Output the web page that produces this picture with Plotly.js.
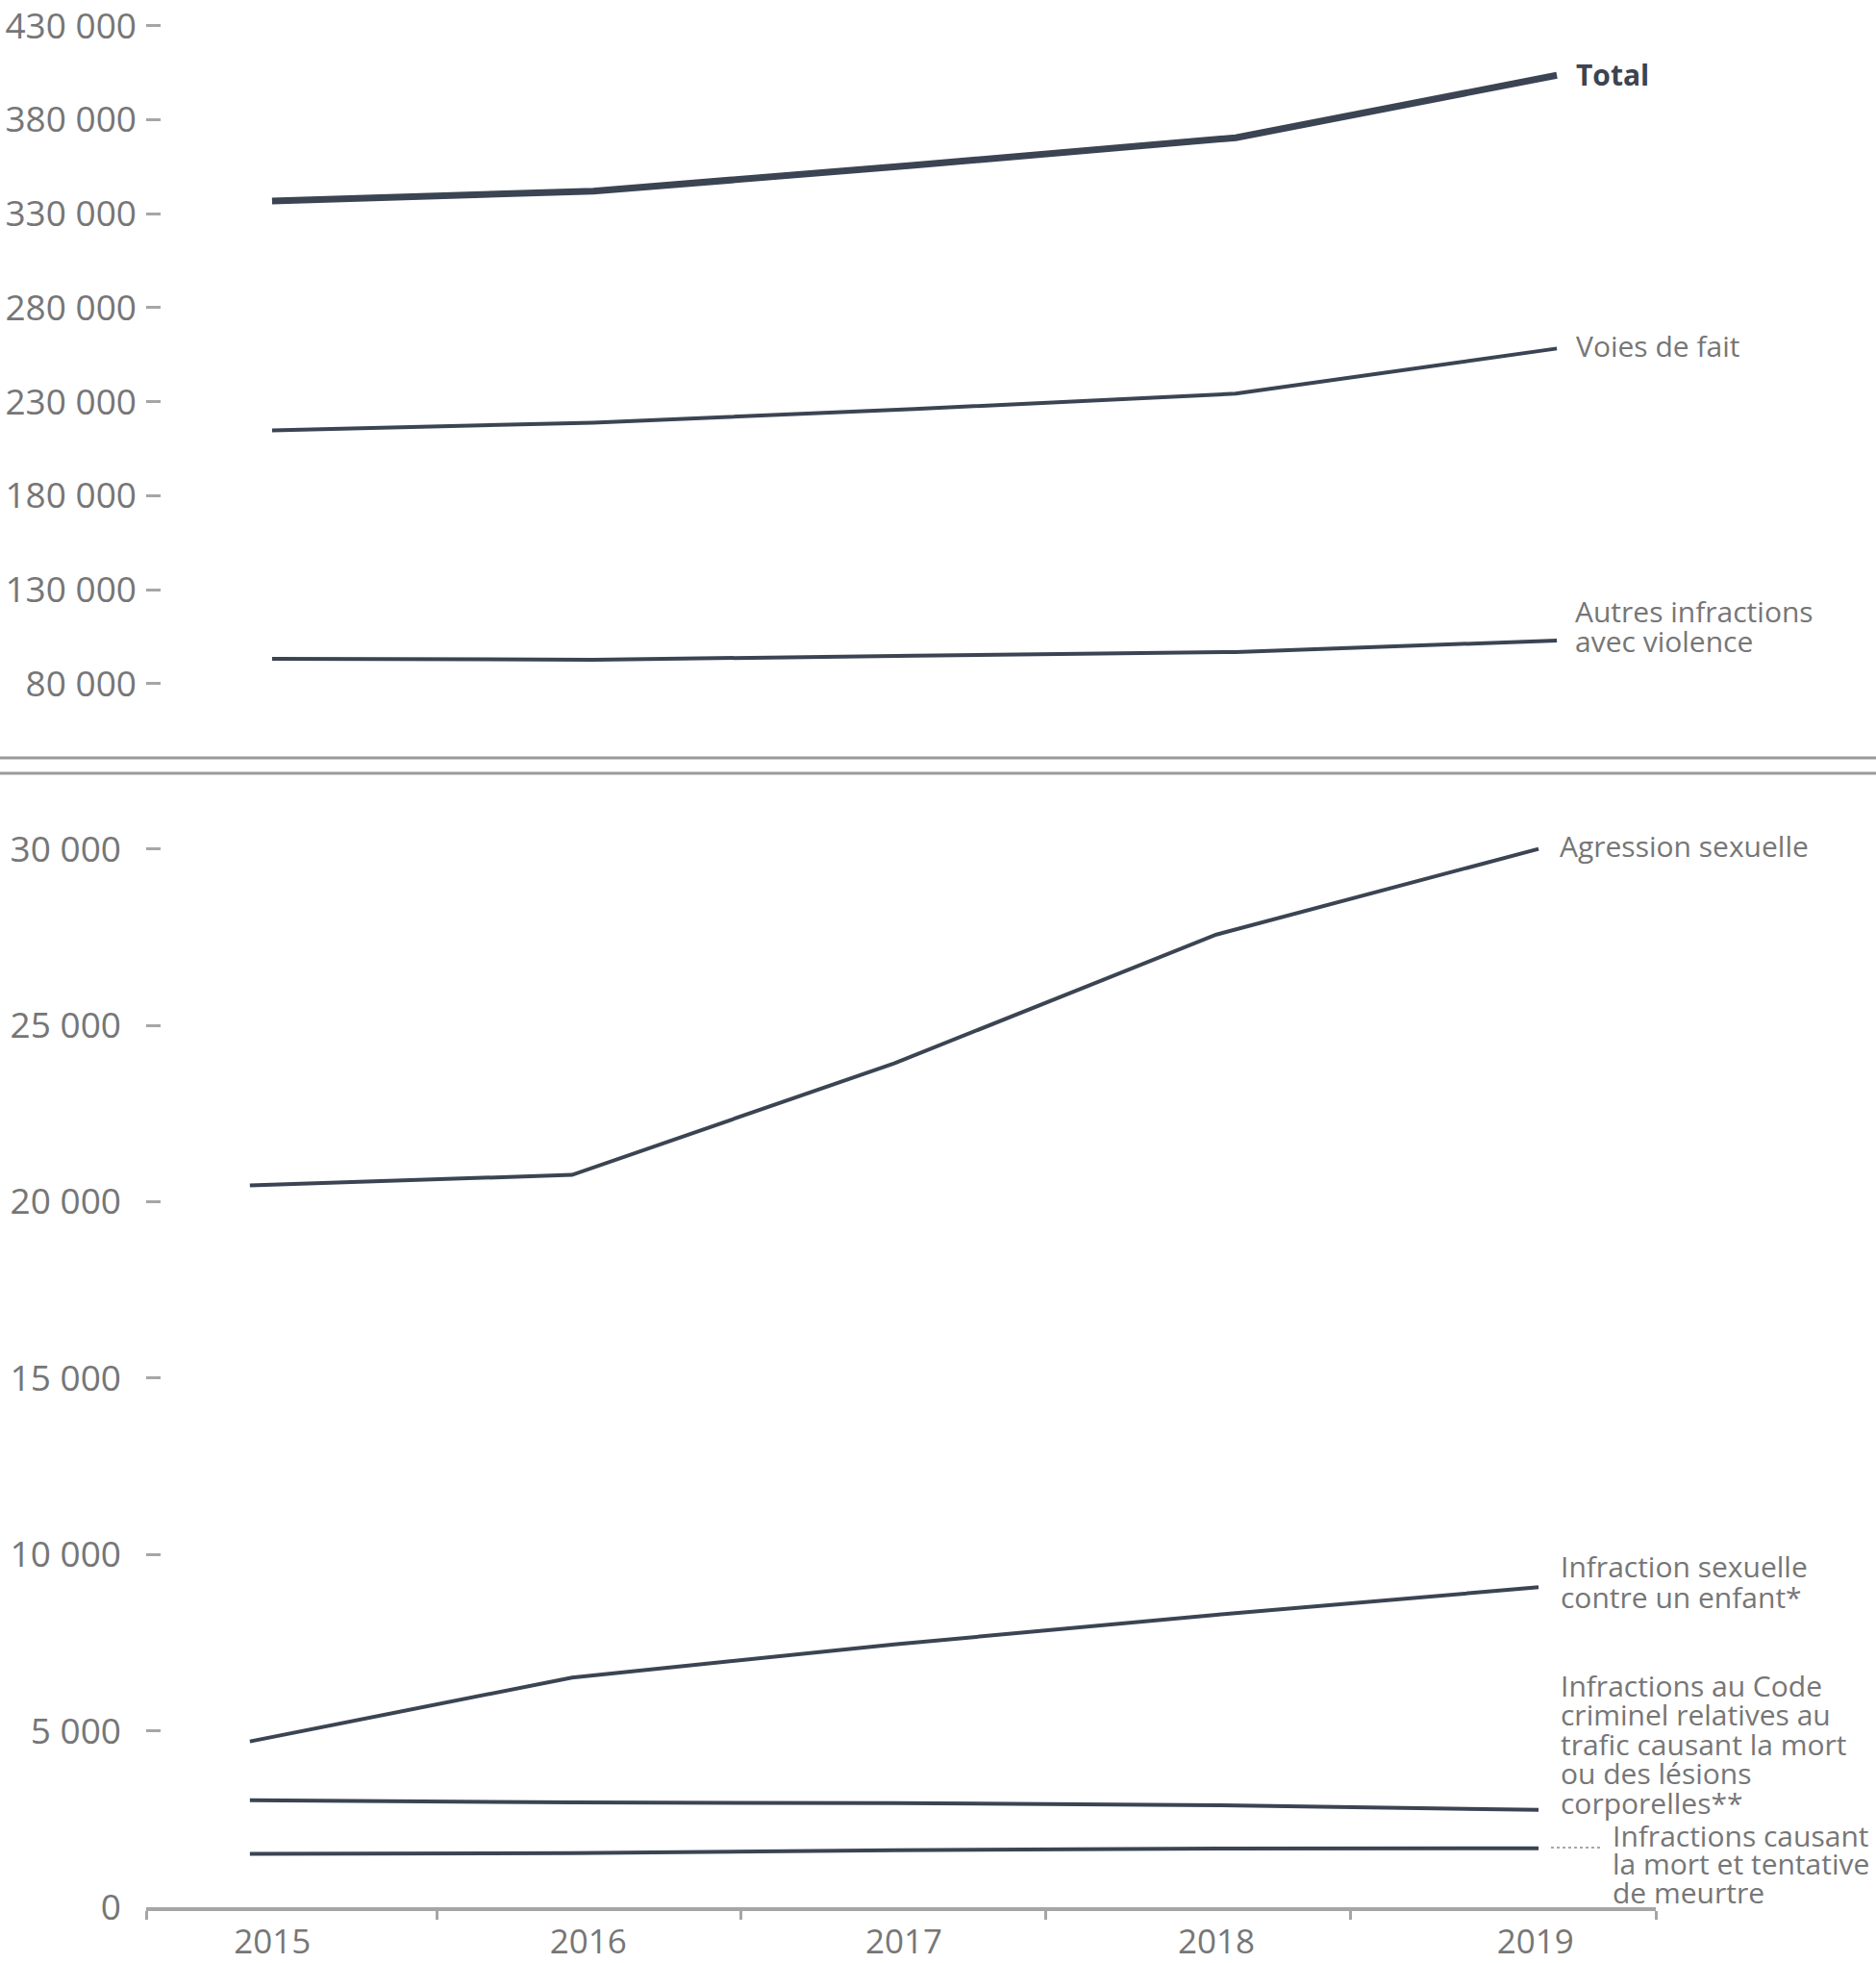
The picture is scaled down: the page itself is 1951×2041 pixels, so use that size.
<!DOCTYPE html>
<html>
<head>
<meta charset="utf-8">
<script src="https://cdn.plot.ly/plotly-3.0.1.min.js"></script>
<style>html,body{margin:0;padding:0;background:#fff;}</style>
</head>
<body>
<div id="chart" style="width:1951px;height:2041px;"></div>
<script>
// ---- data ----
const years = [2015, 2016, 2017, 2018, 2019];
const yearLabels = ['2015', '2016', '2017', '2018', '2019'];

// top panel
const total = [336800, 342000, 355800, 370400, 403600];
const voiesDeFait = [214800, 218900, 226100, 234300, 258300];
const autresInfractions = [93300, 92800, 94900, 96900, 103000];

// bottom panel
const agressionSexuelle = [20460, 20760, 23920, 27570, 30000];
const infractionEnfant = [4700, 6510, 7450, 8290, 9070];
const infractionsTrafic = [3030, 2970, 2950, 2890, 2760];
const infractionsMort = [1510, 1535, 1615, 1660, 1670];

const topTicks = [80000, 130000, 180000, 230000, 280000, 330000, 380000, 430000];
const topTickText = ['80 000', '130 000', '180 000', '230 000', '280 000', '330 000', '380 000', '430 000'];
const botTicks = [0, 5000, 10000, 15000, 20000, 25000, 30000];
const botTickText = ['0', '5 000', '10 000', '15 000', '20 000', '25 000', '30 000'];

// ---- layout geometry (pixels) ----
const W = 1951, H = 2041;
const L = 152, R = 229, T = 10, B = 58;
const PW = W - L - R, PH = H - T - B;
const px = x => (x - L) / PW;
const py = y => (H - B - y) / PH;

const lineColor = '#3b4452';
const textColor = '#767676';
const tickColor = '#a6a6a6';
const FONT = '"Open Sans", "Noto Sans", sans-serif';

const bottomXRange = [2014.678, 2019.364];
const topXRange = [2014.608, 2019.308];
const bottomXTickMarks = [2014.678, 2015.582, 2016.525, 2017.469, 2018.415, 2019.364];
const yearLabelPos = [2015.07, 2016.05, 2017.03, 2018.0, 2018.99];

function tr(y, w, xa, ya) {
  return {x: years, y: y, type: 'scatter', mode: 'lines', xaxis: xa, yaxis: ya,
          line: {color: lineColor, width: w}, hoverinfo: 'skip', showlegend: false};
}

const data = [
  tr(total, 7, 'x2', 'y2'),
  tr(voiesDeFait, 4, 'x2', 'y2'),
  tr(autresInfractions, 4, 'x2', 'y2'),
  tr(agressionSexuelle, 4, 'x', 'y'),
  tr(infractionEnfant, 4, 'x', 'y'),
  tr(infractionsTrafic, 4, 'x', 'y'),
  tr(infractionsMort, 4, 'x', 'y')
];

function lab(text, x, y, opts) {
  opts = opts || {};
  return {text: text, xref: 'paper', yref: 'paper', x: px(x), y: py(y),
          xanchor: 'left', yanchor: 'middle', showarrow: false,
          font: {family: FONT, size: 30, color: opts.color || textColor}};
}

const annotations = [
  lab('<b>Total</b>', 1637, 77, {color: lineColor}),
  lab('Voies de fait', 1637, 360),
  lab('Autres infractions', 1636, 635),
  lab('avec violence', 1636, 666),
  lab('Agression sexuelle', 1620, 879),
  lab('Infraction sexuelle', 1621, 1628),
  lab('contre un enfant*', 1621, 1660),
  lab('Infractions au Code', 1621, 1752),
  lab('criminel relatives au', 1621, 1782),
  lab('trafic causant la mort', 1621, 1813),
  lab('ou des lésions', 1621, 1843),
  lab('corporelles**', 1621, 1874),
  lab('Infractions causant', 1675, 1908),
  lab('la mort et tentative', 1675, 1937),
  lab('de meurtre', 1675, 1967)
];

const shapes = [
  {type: 'line', xref: 'paper', yref: 'paper', x0: px(0), x1: px(W), y0: py(788), y1: py(788),
   line: {color: '#9a9a9a', width: 3}},
  {type: 'line', xref: 'paper', yref: 'paper', x0: px(0), x1: px(W), y0: py(804), y1: py(804),
   line: {color: '#9a9a9a', width: 3}},
  {type: 'line', xref: 'paper', yref: 'paper', x0: px(1613), x1: px(1667), y0: py(1921), y1: py(1921),
   line: {color: '#8a8a8a', width: 1.5, dash: 'dot'}}
];

const layout = {
  width: W, height: H,
  margin: {l: L, r: R, t: T, b: B, pad: 0},
  paper_bgcolor: '#fff', plot_bgcolor: '#fff',
  font: {family: FONT, color: textColor},
  showlegend: false,
  xaxis: {
    domain: [0, 1], anchor: 'y', range: bottomXRange,
    showgrid: false, zeroline: false,
    showline: true, linecolor: tickColor, linewidth: 4,
    tickmode: 'array', tickvals: yearLabelPos, ticktext: yearLabels,
    ticks: '', ticklabelstandoff: 2, ticklabeloverflow: 'allow',
    tickfont: {family: FONT, size: 35, color: textColor},
    minor: {tickmode: 'array', tickvals: bottomXTickMarks, ticks: 'outside',
            ticklen: 9, tickwidth: 3, tickcolor: tickColor, showgrid: false}
  },
  yaxis: {
    domain: [0, py(806)], anchor: 'x', range: [0, 1177 / 183.4 * 5000],
    showgrid: false, zeroline: false, showline: false,
    tickmode: 'array', tickvals: botTicks, ticktext: botTickText,
    ticks: 'inside', ticklen: 15, tickwidth: 3, tickcolor: tickColor,
    ticklabelstandoff: 25, ticklabeloverflow: 'allow',
    tickfont: {family: FONT, size: 37, color: textColor}
  },
  xaxis2: {
    domain: [0, 1], anchor: 'y2', range: topXRange,
    showgrid: false, zeroline: false, showline: false, showticklabels: false, ticks: ''
  },
  yaxis2: {
    domain: [py(786), 1], anchor: 'x2', range: [41610, 438540],
    showgrid: false, zeroline: false, showline: false,
    tickmode: 'array', tickvals: topTicks, ticktext: topTickText,
    ticks: 'inside', ticklen: 15, tickwidth: 3, tickcolor: tickColor,
    ticklabelstandoff: 9, ticklabeloverflow: 'allow',
    tickfont: {family: FONT, size: 37, color: textColor}
  },
  annotations: annotations,
  shapes: shapes
};

Plotly.newPlot('chart', data, layout, {displayModeBar: false, staticPlot: true});
</script>
</body>
</html>
